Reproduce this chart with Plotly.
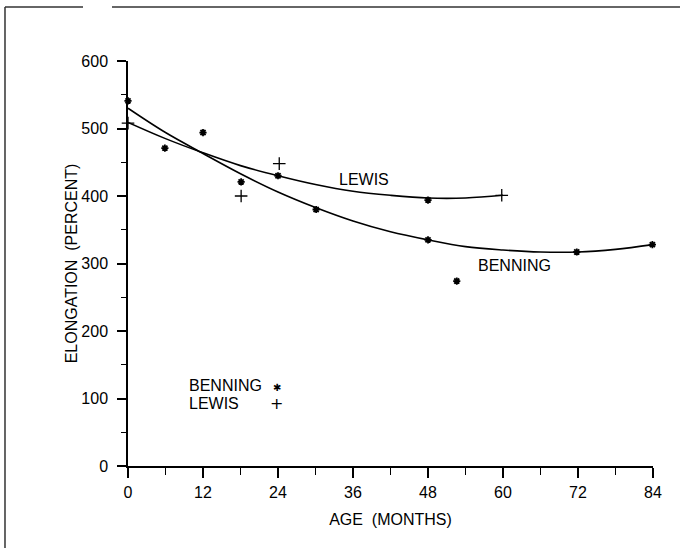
import plotly.graph_objects as go

# ---- data ----
benning_age = [0, 5.9, 12, 18.1, 24, 30.1, 48, 48, 52.6, 71.8, 83.9]
benning_elong = [541, 471, 494, 421, 430, 380, 394, 335, 274, 317, 328]

lewis_age = [0, 18.1, 24.2, 59.8]
lewis_elong = [508, 400, 448, 401]

# fitted curves
benning_fit_age = [0, 6, 12, 18, 24, 30, 36, 42, 48, 54, 60, 66, 72, 78, 84]
benning_fit_elong = [530, 494, 463, 433, 406, 383, 363, 347, 335, 325, 320, 317, 317, 321, 328]

lewis_fit_age = [0, 6, 12, 18, 24, 30, 36, 42, 48, 54, 60]
lewis_fit_elong = [509, 485, 464, 445, 430, 417, 407, 401, 397, 397, 401]

x_ticks = [0, 12, 24, 36, 48, 60, 72, 84]
y_ticks = [0, 100, 200, 300, 400, 500, 600]

FONT = "Liberation Sans Narrow, Liberation Sans, Arial, sans-serif"

fig = go.Figure()
fig.add_trace(go.Scatter(x=benning_fit_age, y=benning_fit_elong, mode="lines",
                         line=dict(color="black", width=1.6, shape="spline"),
                         cliponaxis=False, showlegend=False))
fig.add_trace(go.Scatter(x=lewis_fit_age, y=lewis_fit_elong, mode="lines",
                         line=dict(color="black", width=1.6, shape="spline"),
                         cliponaxis=False, showlegend=False))
fig.add_trace(go.Scatter(x=benning_age, y=benning_elong, mode="markers",
                         marker=dict(symbol="asterisk-open", size=6, color="black",
                                     line=dict(color="black", width=1.8)),
                         cliponaxis=False, showlegend=False))
fig.add_trace(go.Scatter(x=lewis_age, y=lewis_elong, mode="markers",
                         marker=dict(symbol="cross-thin-open", size=9, color="black",
                                     line=dict(color="black", width=1.3)),
                         cliponaxis=False, showlegend=False))

axis_font = dict(family=FONT, size=16, color="black")

fig.update_xaxes(range=[0, 84], tickvals=x_ticks, ticktext=[str(v) for v in x_ticks],
                 showline=True, linecolor="black", linewidth=1.5,
                 ticks="outside", ticklen=10, tickwidth=1.5, tickcolor="black",
                 minor=dict(dtick=6, ticks="outside", ticklen=7, tickwidth=1.2, tickcolor="black"),
                 showgrid=False, zeroline=False, tickfont=axis_font, ticklabelstandoff=1,
                 title=dict(text="AGE  (MONTHS)", font=axis_font, standoff=14))
fig.update_yaxes(range=[0, 600], tickvals=y_ticks, ticktext=[str(v) for v in y_ticks],
                 showline=True, linecolor="black", linewidth=1.5,
                 ticks="outside", ticklen=9, tickwidth=1.5, tickcolor="black",
                 minor=dict(dtick=50, ticks="outside", ticklen=5, tickwidth=1.2, tickcolor="black"),
                 showgrid=False, zeroline=False, tickfont=axis_font, ticklabelstandoff=6,
                 title=dict(text="ELONGATION  (PERCENT)", font=axis_font, standoff=0))

ann_font = dict(family=FONT, size=16, color="black")
annotations = [
    dict(x=37.8, y=425, text="LEWIS", showarrow=False, xref="x", yref="y", font=ann_font),
    dict(x=61.9, y=297, text="BENNING", showarrow=False, xref="x", yref="y", font=ann_font),
    dict(x=9.4, y=120, text="BENNING", showarrow=False, xref="x", yref="y",
         xanchor="left", font=ann_font),
    dict(x=9.4, y=93, text="LEWIS", showarrow=False, xref="x", yref="y",
         xanchor="left", font=ann_font),
    dict(x=23.8, y=117, text="✱", showarrow=False, xref="x", yref="y",
         font=dict(family="DejaVu Sans", size=10, color="black")),
    dict(x=23.8, y=93, text="+", showarrow=False, xref="x", yref="y",
         font=dict(family="DejaVu Sans", size=16, color="black")),
]

# scanned page frame (left edge and broken top edge)
frame = dict(color="#333333", width=1.5)
shapes = [
    dict(type="line", xref="paper", yref="paper", x0=-0.2343, x1=-0.2343, y0=1.1333, y1=-0.21, line=frame),
    dict(type="line", xref="paper", yref="paper", x0=-0.2343, x1=-0.0857, y0=1.1333, y1=1.1333, line=frame),
    dict(type="line", xref="paper", yref="paper", x0=-0.0305, x1=1.0514, y0=1.1333, y1=1.1333, line=frame),
]

fig.update_layout(width=685, height=548, paper_bgcolor="white", plot_bgcolor="white",
                  margin=dict(l=128, r=32, t=61, b=82),
                  annotations=annotations, shapes=shapes, showlegend=False,
                  font=dict(family=FONT, color="black"))

fig.write_html("out.html")
